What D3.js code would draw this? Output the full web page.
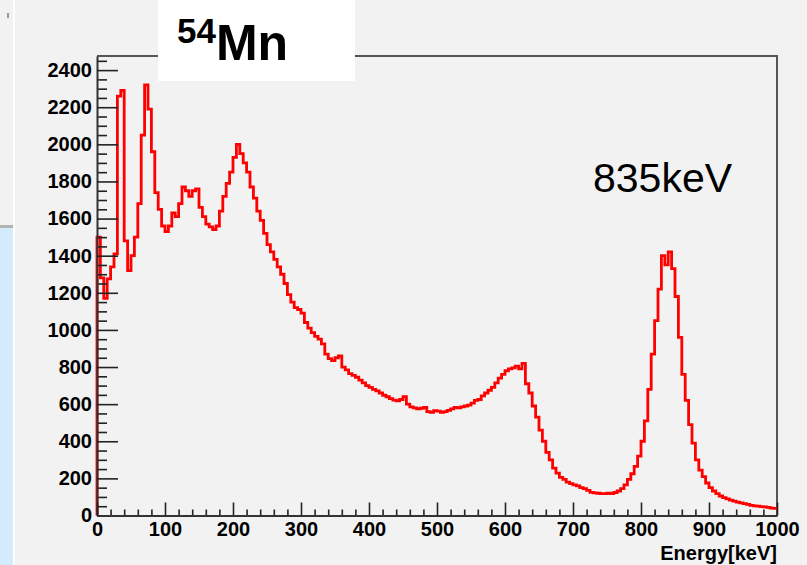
<!DOCTYPE html>
<html>
<head>
<meta charset="utf-8">
<script src="https://cdn.jsdelivr.net/npm/d3@7"></script>
<style>
  body { margin: 0; background: #f2f2f2; }
  svg { display: block; font-family: "Liberation Sans", Arial, Helvetica, sans-serif; }
</style>
</head>
<body>
<svg id="chart" width="807" height="565"></svg>
<script>
// --------- data ---------------------------------
var binWidth = 5; // keV per bin, 0 .. 1000 keV

var counts = [
  1500, 1280, 1170, 1275, 1340, 1410, 2260, 2290, 1480, 1320,
  1400, 1500, 1680, 2050, 2320, 2190, 1960, 1740, 1650, 1560,
  1530, 1560, 1630, 1610, 1680, 1770, 1750, 1720, 1750, 1760,
  1660, 1610, 1570, 1555, 1540, 1560, 1640, 1720, 1790, 1850,
  1930, 2000, 1950, 1900, 1850, 1770, 1710, 1640, 1590, 1520,
  1460, 1420, 1380, 1340, 1300, 1250, 1190, 1150, 1120, 1110,
  1090, 1040, 1010, 985, 965, 950, 925, 870, 845, 835,
  850, 860, 800, 785, 765, 755, 745, 730, 715, 700,
  690, 680, 672, 660, 648, 640, 630, 622, 618, 625,
  640, 600, 585, 580, 575, 578, 582, 560, 556, 565,
  562, 556, 560, 566, 575, 583, 580, 585, 590, 595,
  605, 620, 625, 645, 660, 675, 690, 715, 740, 760,
  780, 790, 795, 805, 790, 820, 710, 660, 590, 530,
  460, 400, 340, 300, 255, 228, 205, 195, 180, 172,
  165, 160, 150, 145, 135, 125, 122, 120, 118, 118,
  120, 118, 124, 132, 145, 165, 195, 225, 265, 320,
  400, 510, 680, 870, 1050, 1220, 1400, 1350, 1420, 1330,
  1180, 960, 760, 620, 490, 390, 300, 245, 210, 175,
  150, 132, 118, 105, 96, 90, 83, 78, 72, 68,
  64, 60, 55, 52, 50, 48, 47, 44, 40, 38
];

var xTicks = [0, 100, 200, 300, 400, 500, 600, 700, 800, 900, 1000];
var yTicks = [0, 200, 400, 600, 800, 1000, 1200, 1400, 1600, 1800, 2000, 2200, 2400];

var xDomain = [0, 1000];
var yDomain = [0, 2476];

// --------- drawing -----------
var svg = d3.select("#chart");
var W = 807, H = 565;
var frame = { left: 97, right: 777, top: 56, bottom: 515.5 };

svg.append("rect").attr("width", W).attr("height", H).attr("fill", "#f2f2f2");

// left strip of the slide behind the canvas
svg.append("rect").attr("x", 0).attr("y", 228).attr("width", 13).attr("height", H - 228).attr("fill", "#d3ebfb");
svg.append("rect").attr("x", 0).attr("y", 225).attr("width", 13).attr("height", 3).attr("fill", "#b3b3b3");
svg.append("rect").attr("x", 13).attr("y", 0).attr("width", 2).attr("height", H).attr("fill", "#ffffff");
svg.append("rect").attr("x", 7).attr("y", 13).attr("width", 2).attr("height", 5).attr("fill", "#9a9a9a");

var x = d3.scaleLinear().domain(xDomain).range([frame.left, frame.right]);
var y = d3.scaleLinear().domain(yDomain).range([frame.bottom, frame.top]);

// frame top and right
svg.append("path")
  .attr("d", "M" + frame.left + "," + frame.top + "H" + frame.right + "V" + frame.bottom)
  .attr("fill", "none")
  .attr("stroke", "#555")
  .attr("stroke-width", 2);

// histogram outline (step)
var pts = [[0, 0]];
counts.forEach(function(c, i) { pts.push([i * binWidth, c]); });
pts.push([counts.length * binWidth, counts[counts.length - 1]]);

var line = d3.line()
  .x(function(d) { return x(d[0]); })
  .y(function(d) { return y(d[1]); })
  .curve(d3.curveStepAfter);

svg.append("path")
  .datum(pts)
  .attr("d", line)
  .attr("fill", "none")
  .attr("stroke", "#ff0000")
  .attr("stroke-width", 2.8)
  .attr("stroke-linejoin", "miter");

// minor ticks
var yMinor = d3.range(0, yDomain[1], 50).filter(function(v) { return v % 200 !== 0; });
var xMinor = d3.range(0, 1001, 20).filter(function(v) { return v % 100 !== 0; });

svg.append("g")
  .attr("transform", "translate(" + frame.left + ",0)")
  .call(d3.axisLeft(y).tickValues(yMinor).tickSize(-10).tickSizeOuter(0).tickFormat(""))
  .call(function(g) { g.select(".domain").remove(); });

svg.append("g")
  .attr("transform", "translate(0," + frame.bottom + ")")
  .call(d3.axisBottom(x).tickValues(xMinor).tickSize(-6).tickSizeOuter(0).tickFormat(""))
  .call(function(g) { g.select(".domain").remove(); });

// major axes
var fmt = d3.format("d");
var yAxis = svg.append("g")
  .attr("transform", "translate(" + frame.left + ",0)")
  .call(d3.axisLeft(y).tickValues(yTicks).tickFormat(fmt).tickSize(-21).tickSizeOuter(0).tickPadding(5));

var xAxis = svg.append("g")
  .attr("transform", "translate(0," + frame.bottom + ")")
  .call(d3.axisBottom(x).tickValues(xTicks).tickFormat(fmt).tickSize(-13).tickSizeOuter(0).tickPadding(6.5));

svg.selectAll(".tick line").attr("stroke", "#222").attr("stroke-width", 1.6);
[yAxis, xAxis].forEach(function(g) {
  g.select(".domain").attr("stroke", "#333").attr("stroke-width", 2);
  g.selectAll("text")
    .attr("fill", "#000")
    .style("font-size", "20px")
    .style("font-weight", "bold")
    .style("font-family", "'Liberation Sans', Arial, sans-serif");
});

// axis title
svg.append("text")
  .attr("x", frame.right)
  .attr("y", 560)
  .attr("text-anchor", "end")
  .style("font-size", "20px")
  .style("font-weight", "bold")
  .text("Energy[keV]");

// peak label
svg.append("text")
  .attr("x", 593)
  .attr("y", 192)
  .style("font-size", "41px")
  .text("835keV");

// isotope title box
svg.append("rect")
  .attr("x", 158).attr("y", 0)
  .attr("width", 197).attr("height", 81)
  .attr("fill", "#ffffff");

var title = svg.append("text")
  .attr("x", 177)
  .attr("y", 60)
  .style("font-weight", "bold");
title.append("tspan").attr("dy", -17).style("font-size", "35px").text("54");
title.append("tspan").attr("dy", 17).style("font-size", "50px").text("Mn");
</script>
</body>
</html>
